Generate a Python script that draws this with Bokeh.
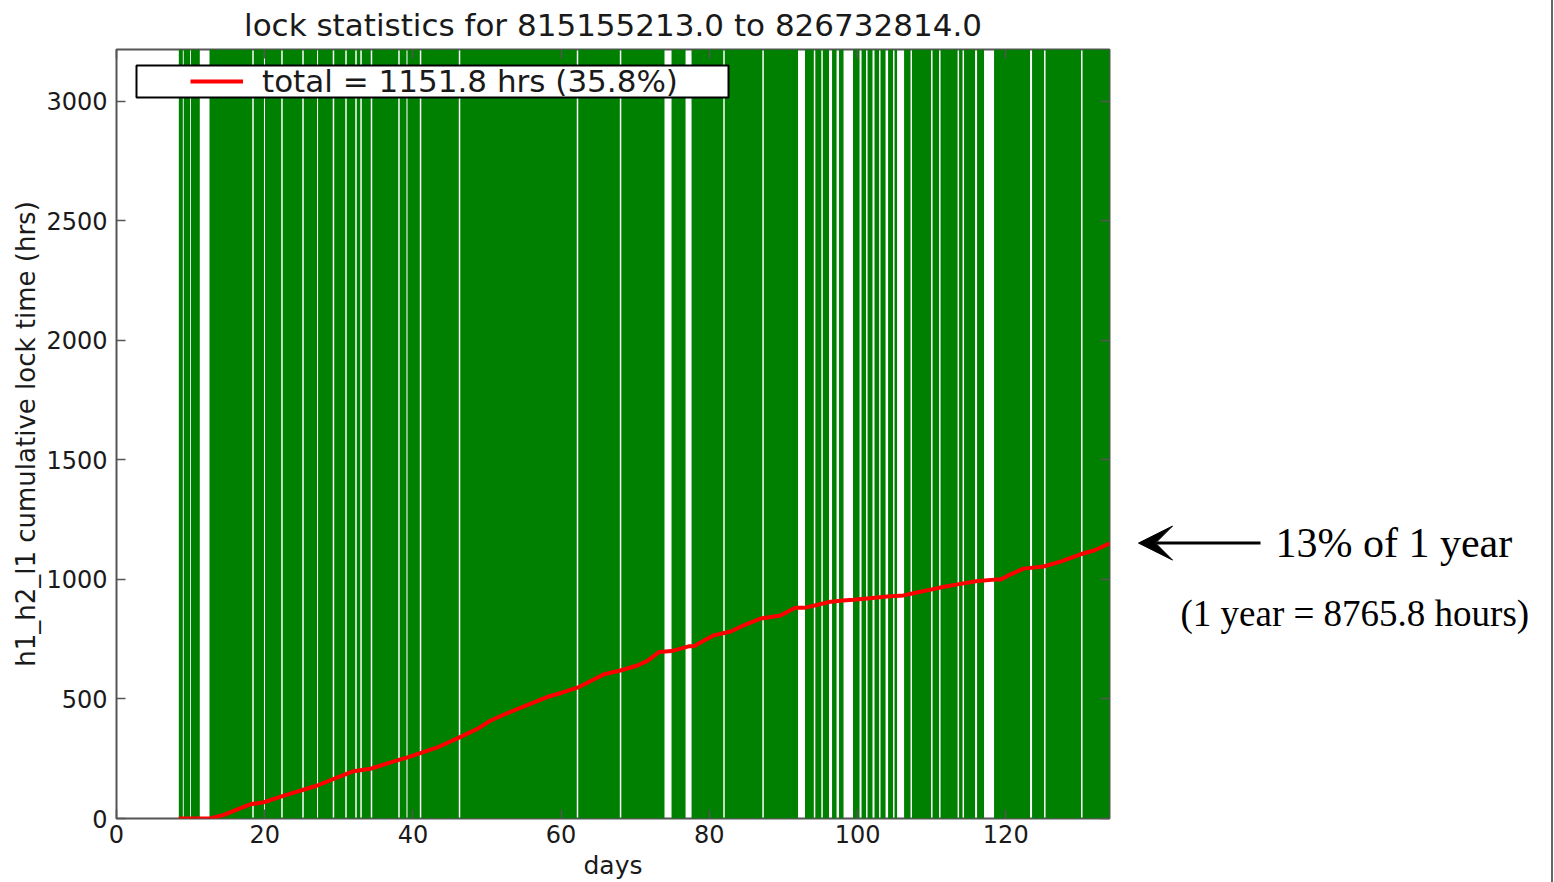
from bokeh.plotting import figure
from bokeh.models import (Range1d, LinearAxis, FixedTicker, Legend, LegendItem,
                          Arrow, VeeHead, Label, BoxAnnotation, Div)
from bokeh.layouts import row
from bokeh.embed import file_html
from bokeh.resources import INLINE

# ---------------- data ----------------
gps_start = 815155213.0
gps_end = 826732814.0
span_days = (gps_end - gps_start) / 86400.0
span_hours = span_days * 24.0

x_ticks = [0, 20, 40, 60, 80, 100, 120]
y_ticks = [0, 500, 1000, 1500, 2000, 2500, 3000]

lock_start_day = 8.41
gap_starts = [8.95, 9.93, 11.24, 18.32, 19.90, 22.23, 25.07, 27.06, 29.18, 30.87,
              32.22, 32.90, 34.31, 38.02, 39.13, 40.93, 46.19, 62.11, 67.92, 73.95,
              76.79, 81.88, 87.15, 91.97, 94.10, 95.11, 96.15, 97.17, 98.11, 100.27,
              101.15, 102.02, 102.90, 103.78, 104.79, 105.33, 107.15, 109.92, 111.00,
              113.50, 114.17, 115.86, 117.07, 123.28, 125.17, 130.16]
gap_ends = [9.07, 10.05, 12.55, 18.52, 20.04, 22.43, 25.27, 27.20, 29.38, 31.07,
            32.42, 33.10, 34.51, 38.22, 39.27, 41.13, 46.39, 62.31, 68.12, 74.90,
            77.60, 82.08, 87.35, 92.91, 94.30, 95.31, 96.56, 97.50, 99.39, 100.54,
            101.35, 102.29, 103.10, 104.12, 104.99, 106.28, 107.35, 110.12, 111.20,
            113.70, 114.37, 116.13, 118.42, 123.55, 125.37, 130.36]

cum_days = [8.4, 12.6, 14.5, 16.5, 18.1, 19.9, 22.6, 25.0, 27.1, 29.5, 32.0, 34.3,
            37.0, 39.5, 41.0, 43.5, 46.0, 48.7, 50.5, 52.7, 55.5, 58.1, 60.0, 62.2,
            64.0, 65.8, 68.0, 70.3, 71.7, 73.2, 74.9, 77.2, 77.9, 80.6, 82.9, 84.8,
            86.9, 89.6, 91.6, 92.8, 94.5, 96.1, 98.0, 99.5, 102.0, 104.0, 106.2,
            108.0, 109.9, 111.5, 113.5, 116.2, 118.5, 119.3, 120.6, 122.4, 125.1,
            127.5, 130.1, 132.0, 133.7, 134.0]
cum_hours = [0, 0, 15, 40, 60, 68, 96, 118, 138, 168, 198, 208, 235, 258, 273, 300,
             335, 375, 410, 440, 475, 508, 525, 547, 575, 603, 619, 640, 660, 696,
             700, 720, 720, 766, 782, 810, 836, 849, 881, 881, 893, 905, 912, 915,
             922, 928, 933, 945, 957, 968, 979, 993, 999, 999, 1020, 1045, 1054,
             1075, 1105, 1122, 1146, 1151.8]

total_hours = 1151.8
hours_per_year = 8765.8

# green lock bands: between gaps
band_left = [lock_start_day] + gap_ends
band_right = gap_starts + [span_days]

# ---------------- layout ----------------
FONT = "DejaVu Sans"
SERIF = "Liberation Serif"
TXT = "#1a1a1a"
H = 882
B_LEFT, B_RIGHT, B_TOP, B_BOTTOM = 116, 11, 49, 64
FRAME_RIGHT = 1109
W1 = FRAME_RIGHT + B_RIGHT
W2 = 1551 - W1
frame_h = H - B_TOP - B_BOTTOM

p = figure(width=W1, height=H, x_range=Range1d(0, span_days),
           y_range=Range1d(0, span_hours), output_backend="svg",
           toolbar_location=None, min_border_left=B_LEFT, min_border_right=B_RIGHT,
           min_border_top=B_TOP, min_border_bottom=B_BOTTOM,
           title="lock statistics for %.1f to %.1f" % (gps_start, gps_end))
p.background_fill_color = "white"
p.border_fill_color = "white"
p.grid.visible = False
p.outline_line_color = "#555555"
p.outline_line_width = 2

p.title.align = "center"
p.title.vertical_align = "top"
p.title.text_font = FONT
p.title.text_font_size = "31px"
p.title.text_font_style = "normal"
p.title.text_color = TXT
p.title.standoff = 10

p.quad(left=band_left, right=band_right, bottom=0, top=span_hours,
       fill_color="#008000", line_color=None)
r = p.line(cum_days, cum_hours, line_color="#ff0000", line_width=4, line_join="round")


def style_axis(ax, ticks):
    ax.ticker = FixedTicker(ticks=ticks)
    ax.axis_line_color = None
    ax.major_tick_in = 9
    ax.major_tick_out = 0
    ax.minor_tick_in = 0
    ax.minor_tick_out = 0
    ax.major_tick_line_color = "#555555"
    ax.major_tick_line_width = 1.5
    ax.major_label_text_font = FONT
    ax.major_label_text_font_size = "24px"
    ax.major_label_text_color = TXT
    ax.axis_label_text_font = FONT
    ax.axis_label_text_font_size = "26px"
    ax.axis_label_text_font_style = "normal"
    ax.axis_label_text_color = TXT


xa = p.xaxis[0]
ya = p.yaxis[0]
style_axis(xa, x_ticks)
style_axis(ya, y_ticks)
xa.axis_label = "days"
xa.axis_label_text_font_size = "25px"
ya.axis_label = "h1_h2_l1 cumulative lock time (hrs)"
xa.major_label_standoff = 6
xa.axis_label_standoff = 5
ya.major_label_standoff = 9
ya.axis_label_standoff = 2

top_ax = LinearAxis()
style_axis(top_ax, x_ticks)
top_ax.major_label_overrides = {t: "" for t in x_ticks}
top_ax.major_label_standoff = 0
p.add_layout(top_ax, "above")
right_ax = LinearAxis()
style_axis(right_ax, y_ticks)
right_ax.major_label_overrides = {t: "" for t in y_ticks}
right_ax.major_label_standoff = 0
p.add_layout(right_ax, "right")

# legend box (behind the legend), offsets measured from the frame
box = BoxAnnotation(left=20, right=612, top=frame_h - 16, bottom=frame_h - 48,
                    left_units="screen", right_units="screen",
                    top_units="screen", bottom_units="screen",
                    fill_color="white", fill_alpha=1.0,
                    line_color="black", line_width=2, line_alpha=1.0)
p.add_layout(box)

legend = Legend(items=[LegendItem(label="total = %.1f hrs (%.1f%%)" % (total_hours, 100 * total_hours / span_hours),
                                  renderers=[r])],
                location=(74, frame_h - 14 - 36), padding=0, margin=0, spacing=0,
                glyph_width=53, glyph_height=32, label_standoff=19, label_width=300,
                label_height=32, label_text_font=FONT, label_text_font_size="31px",
                label_text_color=TXT, border_line_alpha=0, background_fill_alpha=0)
p.add_layout(legend)

# ---------------- annotation panel (frame aligned with the main plot) ----------------
p2 = figure(width=W2, height=H, x_range=Range1d(0, W2),
            y_range=Range1d(0, span_hours),
            output_backend="svg", toolbar_location=None, min_border=0,
            min_border_top=B_TOP, min_border_bottom=B_BOTTOM,
            x_axis_type=None, y_axis_type=None)
p2.outline_line_color = None
p2.grid.visible = False
p2.background_fill_color = "white"
p2.border_fill_color = "white"

p2.add_layout(Arrow(end=VeeHead(size=34, fill_color="black", line_color="black"),
                    x_start=140, y_start=total_hours, x_end=18, y_end=total_hours,
                    line_width=3, line_color="black"))
pct = round(100 * total_hours / hours_per_year)
p2.add_layout(Label(x=155, y=total_hours, text="%d%% of 1 year" % pct,
                    text_font=SERIF, text_font_size="42px", text_baseline="middle",
                    text_color="black"))
p2.add_layout(Label(x=60, y=total_hours, y_offset=-70,
                    text="(1 year = %.1f hours)" % hours_per_year,
                    text_font=SERIF, text_font_size="37px", text_baseline="middle",
                    text_color="black"))

edge = Div(text="", width=2, height=H, margin=0,
           styles={"background-color": "#666666"})

layout = row(p, p2, edge)
open("out.html", "w").write(file_html(layout, INLINE))
